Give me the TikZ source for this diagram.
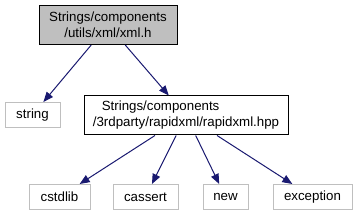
\documentclass[tikz,border=0pt]{standalone}
\usepackage{fontspec}
\setmainfont{Liberation Sans}
\usetikzlibrary{arrows.meta}
\definecolor{edgeblue}{RGB}{25,25,112}
\definecolor{boxgray}{RGB}{191,191,191}
\definecolor{leafgray}{RGB}{191,191,191}

\begin{document}
\begin{tikzpicture}[x=1pt,y=-1pt,
	font=\fontsize{13.3}{16}\selectfont,
	filebox/.style={draw=black,line width=1pt,inner sep=2pt,minimum height=39pt},
	leafbox/.style={draw=leafgray,line width=1pt,inner sep=2pt,minimum height=25pt},
	dep/.style={edgeblue,line width=1pt,-{Triangle[length=10pt,width=8pt]}}]
		\useasboundingbox (0,0) rectangle (357,216);
		
		%Files
		\node[filebox,fill=boxgray,minimum width=138pt,align=center] (xmlh) at (108,25)
		{Strings/components\\/utils/xml/xml.h};
		\node[filebox,minimum width=204pt,align=left] (rapidxml) at (186,115.5)
		{\hspace{9pt}Strings/components\\/3rdparty/rapidxml/rapidxml.hpp};
		
		%System headers
		\node[leafbox,minimum width=55pt] (string) at (32.5,115) {string};
		\node[leafbox,minimum width=61pt] (cstdlib) at (59.5,197) {cstdlib};
		\node[leafbox,minimum width=65pt] (cassert) at (145.5,197) {cassert};
		\node[leafbox,minimum width=45pt] (new) at (225.5,197) {new};
		\node[leafbox,minimum width=79pt] (exception) at (312.5,197) {exception};
		
		%Includes
		\draw[dep] (xmlh) -- (string);
		\draw[dep] (xmlh) -- (rapidxml);
		\draw[dep] (rapidxml) -- (cstdlib);
		\draw[dep] (rapidxml) -- (cassert);
		\draw[dep] (rapidxml) -- (new);
		\draw[dep] (rapidxml) -- (exception);
		
	\end{tikzpicture}
\end{document}
